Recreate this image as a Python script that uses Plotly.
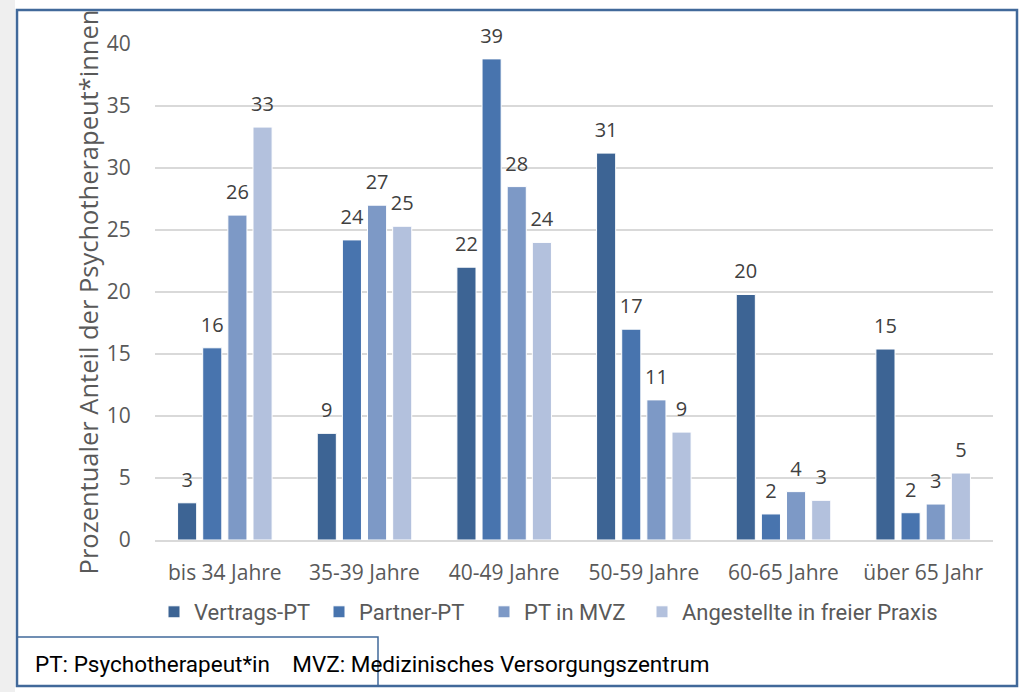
import plotly.graph_objects as go

categories = ["bis 34 Jahre", "35-39 Jahre", "40-49 Jahre", "50-59 Jahre", "60-65 Jahre", "über 65 Jahr"]
vertrags_pt = [3.0, 8.6, 22.0, 31.2, 19.8, 15.4]
partner_pt = [15.5, 24.2, 38.8, 17.0, 2.1, 2.2]
pt_in_mvz = [26.2, 27.0, 28.5, 11.3, 3.9, 2.9]
angestellte = [33.3, 25.3, 24.0, 8.7, 3.2, 5.4]

series_names = ["Vertrags-PT", "Partner-PT", "PT in MVZ", "Angestellte in freier Praxis"]
series_values = [vertrags_pt, partner_pt, pt_in_mvz, angestellte]
colors = ["#3D6494", "#4874AE", "#7D99C6", "#B3C1DD"]

y_ticks = [0, 5, 10, 15, 20, 25, 30, 35, 40]
y_title = "Prozentualer Anteil der Psychotherapeut*innen"
footer = "PT: Psychotherapeut*in    MVZ: Medizinisches Versorgungszentrum"

W, H = 1021, 692
L, R, T, B = 155, 28, 44, 152
pw, ph = W - L - R, H - T - B
GAP = 0.28


def px(x):
    return (x - L) / pw


def py(y):
    return (H - B - y) / ph


sans = "Open Sans, DejaVu Sans, sans-serif"
axis_font = dict(family=sans, size=21, color="#595959")
label_font = dict(family=sans, size=20, color="#404040")
narrow_font = "Roboto, sans-serif"

fig = go.Figure()
for i, (name, vals, col) in enumerate(zip(series_names, series_values, colors)):
    fig.add_trace(go.Bar(
        x=categories, y=vals, name=name,
        marker=dict(color=col, line=dict(color="white", width=1)),
        legend="legend" if i < 3 else "legend2",
        hoverinfo="x+y+name",
    ))
for name, vals in zip(series_names, series_values):
    fig.add_trace(go.Scatter(
        x=categories, y=vals, name=name, mode="markers+text",
        marker=dict(size=16, opacity=0),
        text=[f"{v:.0f}" for v in vals], textposition="top center",
        textfont=label_font, showlegend=False, cliponaxis=False, hoverinfo="skip",
    ))

shapes = [
    dict(type="rect", xref="paper", yref="paper", x0=px(0), x1=px(15), y0=py(H), y1=py(0),
         fillcolor="#EFEFEF", line=dict(width=0), layer="below"),
    dict(type="rect", xref="paper", yref="paper", x0=px(17), x1=px(1017), y0=py(686), y1=py(10),
         line=dict(color="#41699A", width=2.5)),
    dict(type="rect", xref="paper", yref="paper", x0=px(17), x1=px(378), y0=py(686), y1=py(637),
         line=dict(color="#41699A", width=1.5)),
]

legend_font = dict(family=narrow_font, size=22, color="#595959")
fig.update_layout(
    width=W, height=H,
    margin=dict(l=L, r=R, t=T, b=B),
    paper_bgcolor="white", plot_bgcolor="white",
    barmode="group", bargap=GAP, bargroupgap=0.24,
    scattermode="group", scattergap=GAP,
    showlegend=True,
    legend=dict(orientation="h", x=px(154), y=py(612), xanchor="left", yanchor="middle",
                font=legend_font, itemwidth=30, entrywidth=120, traceorder="normal",
                bgcolor="rgba(0,0,0,0)"),
    legend2=dict(orientation="h", x=px(642), y=py(612), xanchor="left", yanchor="middle",
                 font=legend_font, itemwidth=30, bgcolor="rgba(0,0,0,0)"),
    xaxis=dict(tickfont=axis_font, showline=True, linecolor="#D9D9D9", linewidth=1.5,
               ticks="", showgrid=False, ticklabelstandoff=13),
    yaxis=dict(range=[0, 40], tickvals=y_ticks, tickfont=axis_font, showgrid=True,
               gridcolor="#D9D9D9", gridwidth=1.5, zeroline=False, showline=False,
               ticks="outside", ticklen=19, tickcolor="rgba(0,0,0,0)",
               title=dict(text=y_title, font=dict(family=sans, size=25.5, color="#595959"), standoff=0)),
    shapes=shapes,
    annotations=[dict(text=footer, xref="paper", yref="paper", x=px(33), y=py(664),
                      xanchor="left", yanchor="middle", showarrow=False,
                      font=dict(family=narrow_font, size=22.5, color="#000000"))],
)

fig.write_html("out.html", config={"displayModeBar": False},
               post_script="document.body.style.margin='0';")
